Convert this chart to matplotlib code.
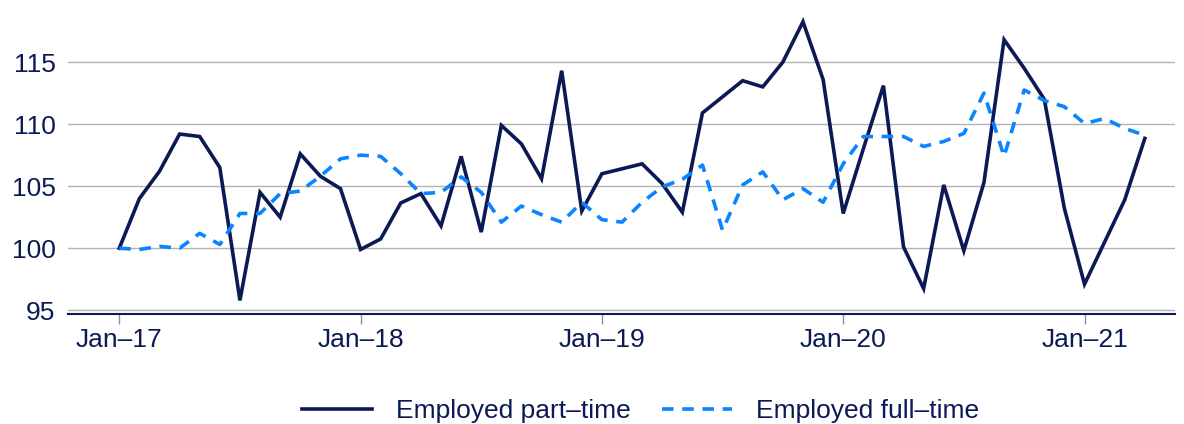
import matplotlib
matplotlib.use("Agg")
import matplotlib.pyplot as plt
import numpy as np

plt.rcParams['font.family'] = ['Liberation Sans', 'DejaVu Sans']

months = np.arange(52)  # Jan-17 .. Apr-21
tick_pos = [0, 12, 24, 36, 48]
tick_labels = ["Jan\u201317", "Jan\u201318", "Jan\u201319", "Jan\u201320", "Jan\u201321"]

part_time = [
    100.0, 104.0, 106.2, 109.2, 109.0, 106.5, 95.8, 104.5, 102.5, 107.6, 105.8, 104.8,
    99.9, 100.75, 103.65, 104.4, 101.8, 107.4, 101.3, 109.9, 108.4, 105.6, 114.3, 103.0,
    106.0, 106.4, 106.8, 105.2, 102.9, 110.9, 112.2, 113.5, 113.0, 115.0, 118.25, 113.6,
    102.8, 108.0, 113.1, 100.1, 96.75, 105.1, 99.8, 105.3, 116.8, 114.5, 112.0, 103.2,
    97.1, 100.5, 103.9, 108.85,
]
full_time = [
    100.0, 99.9, 100.15, 100.0, 101.2, 100.3, 102.8, 102.8, 104.4, 104.6, 105.8, 107.2,
    107.5, 107.4, 106.0, 104.4, 104.5, 105.75, 104.5, 102.1, 103.4, 102.7, 102.1, 103.7,
    102.3, 102.1, 103.7, 104.95, 105.55, 106.7, 101.45, 105.1, 106.15, 103.9, 104.8, 103.7,
    106.8, 109.0, 109.0, 109.0, 108.2, 108.6, 109.25, 112.5, 107.4, 112.75, 111.9, 111.4,
    110.05, 110.45, 109.65, 109.1,
]

navy = "#0b1a55"
blue = "#0a84ff"
fs = 19

fig = plt.figure(figsize=(11.84, 4.24), dpi=100)
ax = fig.add_axes([68 / 1184, 110 / 424, (1175 - 68) / 1184, 314 / 424])

ax.plot(months, part_time, color=navy, lw=2.6, label="Employed part\u2013time", solid_joinstyle="miter")
ax.plot(months, full_time, color=blue, lw=2.6, dashes=(3.2, 2.4), label="Employed full\u2013time")

ax.set_xlim(-2.55, 52.5)
ax.set_ylim(94.7, 120.0)
ax.set_yticks([95, 100, 105, 110, 115])
ax.set_xticks(tick_pos)
ax.set_xticklabels(tick_labels)
ax.grid(axis="y", color="#b3b3b3", lw=1.0)
ax.set_axisbelow(True)
for s in ["top", "right", "left"]:
    ax.spines[s].set_visible(False)
ax.spines["bottom"].set_color(navy)
ax.spines["bottom"].set_linewidth(1.5)
ax.tick_params(axis="y", length=0, labelsize=fs, labelcolor=navy, pad=9)
ax.tick_params(axis="x", length=7, width=1, color="#8a8fa8", labelsize=fs, labelcolor=navy, pad=3)

leg = fig.legend(loc="center", bbox_to_anchor=(0.541, 0.03), ncol=2, frameon=False,
                 fontsize=fs, handlelength=2.65, handletextpad=0.9, columnspacing=1.2)
for t in leg.get_texts():
    t.set_color(navy)

fig.savefig("out.png", dpi=100)
